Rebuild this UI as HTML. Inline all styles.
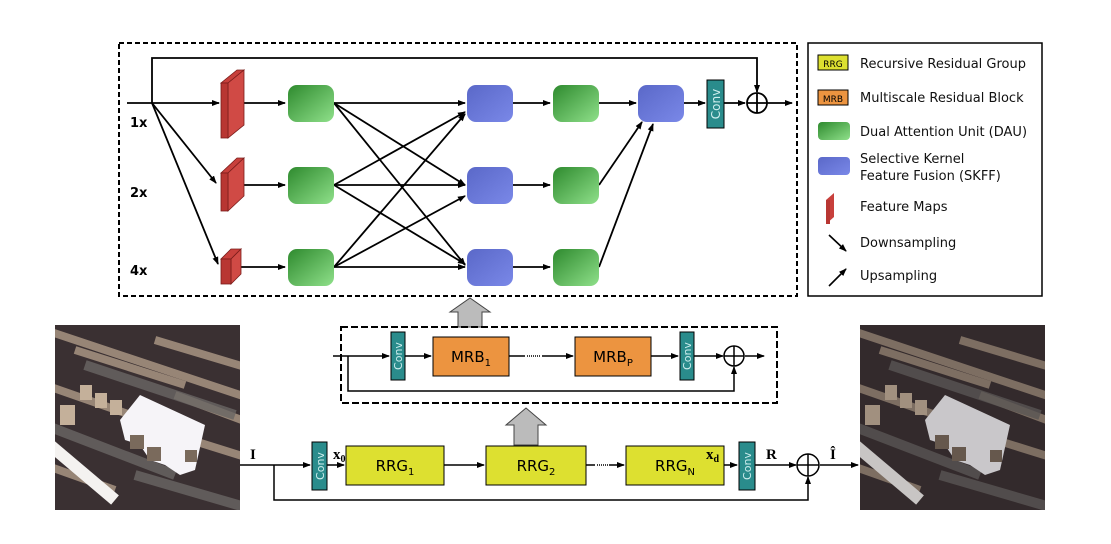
<!DOCTYPE html>
<html><head><meta charset="utf-8"><style>
body{margin:0;background:#fff;}
svg{display:block;font-family:"DejaVu Sans","Liberation Sans",sans-serif;}
</style></head><body>
<svg width="1111" height="544" viewBox="0 0 1111 544" xmlns="http://www.w3.org/2000/svg">
<defs>
<marker id="a" markerWidth="8" markerHeight="8" refX="7" refY="4" orient="auto" markerUnits="userSpaceOnUse"><path d="M0,1 L8,4 L0,7 z" fill="#000"/></marker>
<linearGradient id="g" x1="0" y1="0" x2="1" y2="1"><stop offset="0" stop-color="#2e8a2e"/><stop offset="1" stop-color="#8fe08a"/></linearGradient>
<linearGradient id="b" x1="0" y1="0" x2="1" y2="1"><stop offset="0" stop-color="#5a68c8"/><stop offset="1" stop-color="#7a88e8"/></linearGradient>
<clipPath id="c1"><rect x="55" y="325" width="185" height="185"/></clipPath>
<clipPath id="c2"><rect x="860" y="325" width="185" height="185"/></clipPath>
<g id="scene">
<rect x="0" y="0" width="185" height="185" fill="#3a3032"/>
<g stroke="#a89482" stroke-width="8" opacity="0.85">
<line x1="-10" y1="5" x2="200" y2="75"/><line x1="20" y1="25" x2="130" y2="60"/><line x1="100" y1="15" x2="200" y2="45"/>
<line x1="-10" y1="60" x2="90" y2="95"/><line x1="120" y1="70" x2="200" y2="100"/>
<line x1="-10" y1="140" x2="60" y2="165"/><line x1="120" y1="110" x2="200" y2="135"/>
</g>
<g stroke="#6a6664" stroke-width="10" opacity="0.8">
<line x1="30" y1="40" x2="180" y2="90"/><line x1="-10" y1="100" x2="120" y2="150"/><line x1="80" y1="150" x2="200" y2="185"/>
</g>
<g fill="#c4b09a"><rect x="25" y="60" width="12" height="15"/><rect x="40" y="68" width="12" height="15"/><rect x="55" y="75" width="12" height="15"/><rect x="5" y="80" width="15" height="20"/></g>
<line x1="-5" y1="120" x2="60" y2="175" stroke="#f4f2f0" stroke-width="12"/>
<path d="M65,95 L85,70 L150,100 L140,145 L125,150 L110,140 L95,135 L85,120 L70,115 Z" fill="#f6f4f8"/>
<g fill="#7a6a5c"><rect x="75" y="110" width="14" height="14"/><rect x="92" y="122" width="14" height="14"/><rect x="130" y="125" width="12" height="12"/></g>
</g>
</defs>

<g clip-path="url(#c1)"><use href="#scene" x="55" y="325"/></g>
<g clip-path="url(#c2)"><use href="#scene" x="860" y="325"/><rect x="860" y="325" width="185" height="185" fill="#1a1214" opacity="0.2"/></g>

<rect x="119" y="43" width="678" height="253" fill="none" stroke="#000" stroke-width="2" stroke-dasharray="5,3"/>
<rect x="808" y="43" width="234" height="253" fill="none" stroke="#000" stroke-width="1.5"/>

<g stroke="#000" stroke-width="1.8" fill="none">
<polyline points="152,103 152,58 757,58 757,92" marker-end="url(#a)"/>
<line x1="127" y1="103" x2="219" y2="103" marker-end="url(#a)"/>
<line x1="152" y1="103" x2="216" y2="183" marker-end="url(#a)"/>
<line x1="152" y1="103" x2="218" y2="264" marker-end="url(#a)"/>
<line x1="237" y1="103" x2="285" y2="103" marker-end="url(#a)"/>
<line x1="237" y1="185" x2="285" y2="185" marker-end="url(#a)"/>
<line x1="237" y1="267" x2="285" y2="267" marker-end="url(#a)"/>
<line x1="334" y1="103" x2="465" y2="103" marker-end="url(#a)"/>
<line x1="334" y1="103" x2="465" y2="185" marker-end="url(#a)"/>
<line x1="334" y1="103" x2="465" y2="265" marker-end="url(#a)"/>
<line x1="334" y1="185" x2="465" y2="112" marker-end="url(#a)"/>
<line x1="334" y1="185" x2="465" y2="185" marker-end="url(#a)"/>
<line x1="334" y1="185" x2="465" y2="264" marker-end="url(#a)"/>
<line x1="334" y1="267" x2="465" y2="114" marker-end="url(#a)"/>
<line x1="334" y1="267" x2="465" y2="196" marker-end="url(#a)"/>
<line x1="334" y1="267" x2="465" y2="267" marker-end="url(#a)"/>
<line x1="513" y1="103" x2="550" y2="103" marker-end="url(#a)"/>
<line x1="513" y1="185" x2="550" y2="185" marker-end="url(#a)"/>
<line x1="513" y1="267" x2="550" y2="267" marker-end="url(#a)"/>
<line x1="599" y1="103" x2="636" y2="103" marker-end="url(#a)"/>
<line x1="599" y1="185" x2="642" y2="122" marker-end="url(#a)"/>
<line x1="599" y1="267" x2="653" y2="124" marker-end="url(#a)"/>
<line x1="684" y1="103" x2="705" y2="103" marker-end="url(#a)"/>
<line x1="724" y1="103" x2="745" y2="103" marker-end="url(#a)"/>
<line x1="767" y1="103" x2="792" y2="103" marker-end="url(#a)"/>
</g>

<g fill="#c8403c" stroke="#7a1c1a" stroke-width="0.8">
<polygon points="221,83 228,83 244,70 237,70"/><polygon points="228,83 244,70 244,125 228,138" fill="#d04a45"/><rect x="221" y="83" width="7" height="55" fill="#b83632"/>
<polygon points="221,173 228,173 244,158 237,158"/><polygon points="228,173 244,158 244,196 228,211" fill="#d04a45"/><rect x="221" y="173" width="7" height="38" fill="#b83632"/>
<polygon points="221,259 231,259 241,249 231,249"/><polygon points="231,259 241,249 241,274 231,284" fill="#d04a45"/><rect x="221" y="259" width="10" height="25" fill="#b83632"/>
</g>

<g>
<rect x="288" y="85" width="46" height="37" rx="9" fill="url(#g)"/>
<rect x="288" y="167" width="46" height="37" rx="9" fill="url(#g)"/>
<rect x="288" y="249" width="46" height="37" rx="9" fill="url(#g)"/>
<rect x="467" y="85" width="46" height="37" rx="9" fill="url(#b)"/>
<rect x="467" y="167" width="46" height="37" rx="9" fill="url(#b)"/>
<rect x="467" y="249" width="46" height="37" rx="9" fill="url(#b)"/>
<rect x="553" y="85" width="46" height="37" rx="9" fill="url(#g)"/>
<rect x="553" y="167" width="46" height="37" rx="9" fill="url(#g)"/>
<rect x="553" y="249" width="46" height="37" rx="9" fill="url(#g)"/>
<rect x="638" y="85" width="46" height="37" rx="9" fill="url(#b)"/>
</g>
<text x="130" y="127" font-size="13" font-weight="bold">1x</text>
<text x="130" y="197" font-size="13" font-weight="bold">2x</text>
<text x="130" y="275" font-size="13" font-weight="bold">4x</text>

<rect x="707" y="80" width="17" height="48" fill="#2a8c8c" stroke="#000" stroke-width="1"/>
<text transform="translate(720,104) rotate(-90)" text-anchor="middle" font-size="12" fill="#cfeeee">Conv</text>
<circle cx="757" cy="103" r="10" fill="#fff" stroke="#000" stroke-width="1.8"/>
<path d="M747,103 H767 M757,93 V113" stroke="#000" stroke-width="1.8"/>

<polygon points="458,327 458,312 450,312 470,298 490,312 482,312 482,327" fill="#bbb" stroke="#444" stroke-width="1"/>
<polygon points="514,445 514,425 506,425 526,408 546,425 538,425 538,445" fill="#bbb" stroke="#444" stroke-width="1"/>

<rect x="341" y="327" width="436" height="76" fill="none" stroke="#000" stroke-width="2" stroke-dasharray="7,3"/>
<g stroke="#000" stroke-width="1.5" fill="none">
<line x1="333" y1="356" x2="389" y2="356" marker-end="url(#a)"/>
<polyline points="348,356 348,391 734,391 734,367" marker-end="url(#a)"/>
<line x1="404" y1="356" x2="431" y2="356" marker-end="url(#a)"/>
<line x1="509" y1="356" x2="525" y2="356"/><line x1="527" y1="356" x2="540" y2="356" stroke-dasharray="1,1"/>
<line x1="542" y1="356" x2="573" y2="356" marker-end="url(#a)"/>
<line x1="651" y1="356" x2="678" y2="356" marker-end="url(#a)"/>
<line x1="694" y1="356" x2="723" y2="356" marker-end="url(#a)"/>
<line x1="745" y1="356" x2="764" y2="356" marker-end="url(#a)"/>
</g>
<rect x="391" y="332" width="14" height="48" fill="#2a8c8c" stroke="#000" stroke-width="1"/>
<text transform="translate(402,356) rotate(-90)" text-anchor="middle" font-size="11" fill="#cfeeee">Conv</text>
<rect x="680" y="332" width="14" height="48" fill="#2a8c8c" stroke="#000" stroke-width="1"/>
<text transform="translate(691,356) rotate(-90)" text-anchor="middle" font-size="11" fill="#cfeeee">Conv</text>
<rect x="433" y="337" width="76" height="39" fill="#ec9440" stroke="#000" stroke-width="1"/>
<text x="471" y="362" text-anchor="middle" font-size="15">MRB<tspan font-size="10" dy="4">1</tspan></text>
<rect x="575" y="337" width="76" height="39" fill="#ec9440" stroke="#000" stroke-width="1"/>
<text x="613" y="362" text-anchor="middle" font-size="15">MRB<tspan font-size="10" dy="4">P</tspan></text>
<circle cx="734" cy="356" r="10" fill="#fff" stroke="#000" stroke-width="1.5"/>
<path d="M724,356 H744 M734,346 V366" stroke="#000" stroke-width="1.5"/>

<g stroke="#000" stroke-width="1.5" fill="none">
<line x1="240" y1="465" x2="310" y2="465" marker-end="url(#a)"/>
<polyline points="274,465 274,500 808,500 808,477" marker-end="url(#a)"/>
<line x1="327" y1="465" x2="344" y2="465" marker-end="url(#a)"/>
<line x1="444" y1="465" x2="484" y2="465" marker-end="url(#a)"/>
<line x1="586" y1="465" x2="595" y2="465"/><line x1="597" y1="465" x2="608" y2="465" stroke-dasharray="1,1"/>
<line x1="609" y1="465" x2="624" y2="465" marker-end="url(#a)"/>
<line x1="724" y1="465" x2="737" y2="465" marker-end="url(#a)"/>
<line x1="755" y1="465" x2="796" y2="465" marker-end="url(#a)"/>
<line x1="820" y1="465" x2="858" y2="465" marker-end="url(#a)"/>
</g>
<rect x="312" y="442" width="15" height="48" fill="#2a8c8c" stroke="#000" stroke-width="1"/>
<text transform="translate(324,466) rotate(-90)" text-anchor="middle" font-size="11" fill="#cfeeee">Conv</text>
<rect x="739" y="442" width="16" height="48" fill="#2a8c8c" stroke="#000" stroke-width="1"/>
<text transform="translate(751,466) rotate(-90)" text-anchor="middle" font-size="11" fill="#cfeeee">Conv</text>
<rect x="346" y="446" width="98" height="39" fill="#dde030" stroke="#000" stroke-width="1"/>
<text x="395" y="471" text-anchor="middle" font-size="15">RRG<tspan font-size="10" dy="4">1</tspan></text>
<rect x="486" y="446" width="100" height="39" fill="#dde030" stroke="#000" stroke-width="1"/>
<text x="536" y="471" text-anchor="middle" font-size="15">RRG<tspan font-size="10" dy="4">2</tspan></text>
<rect x="626" y="446" width="98" height="39" fill="#dde030" stroke="#000" stroke-width="1"/>
<text x="675" y="471" text-anchor="middle" font-size="15">RRG<tspan font-size="10" dy="4">N</tspan></text>
<circle cx="808" cy="465" r="11" fill="#fff" stroke="#000" stroke-width="1.5"/>
<path d="M797,465 H819 M808,454 V476" stroke="#000" stroke-width="1.5"/>
<g font-family="Liberation Serif,serif" font-weight="bold" font-size="15">
<text x="250" y="459">I</text>
<text x="333" y="459">x<tspan font-size="10" dy="3">0</tspan></text>
<text x="706" y="459">x<tspan font-size="10" dy="3">d</tspan></text>
<text x="766" y="459">R</text>
<text x="830" y="459">Î</text>
</g>

<rect x="818" y="55" width="30" height="15" fill="#dde030" stroke="#000" stroke-width="1"/>
<text x="833" y="67" text-anchor="middle" font-size="9">RRG</text>
<rect x="818" y="90" width="30" height="15" fill="#ec9440" stroke="#000" stroke-width="1"/>
<text x="833" y="102" text-anchor="middle" font-size="9">MRB</text>
<rect x="818" y="122" width="32" height="18" rx="4" fill="url(#g)"/>
<rect x="818" y="157" width="32" height="18" rx="4" fill="url(#b)"/>
<polygon points="826,200 834,193 834,217 826,224" fill="#c8403c"/><rect x="826" y="200" width="4" height="24" fill="#b83632"/>
<g stroke="#000" stroke-width="1.6"><line x1="829" y1="235" x2="846" y2="251" marker-end="url(#a)"/><line x1="829" y1="286" x2="846" y2="269" marker-end="url(#a)"/></g>
<g font-size="13" fill="#111">
<text x="860" y="68">Recursive Residual Group</text>
<text x="860" y="102">Multiscale Residual Block</text>
<text x="860" y="136">Dual Attention Unit (DAU)</text>
<text x="860" y="163">Selective Kernel</text>
<text x="860" y="180">Feature Fusion (SKFF)</text>
<text x="860" y="211">Feature Maps</text>
<text x="860" y="247">Downsampling</text>
<text x="860" y="280">Upsampling</text>
</g>
</svg>
</body></html>
